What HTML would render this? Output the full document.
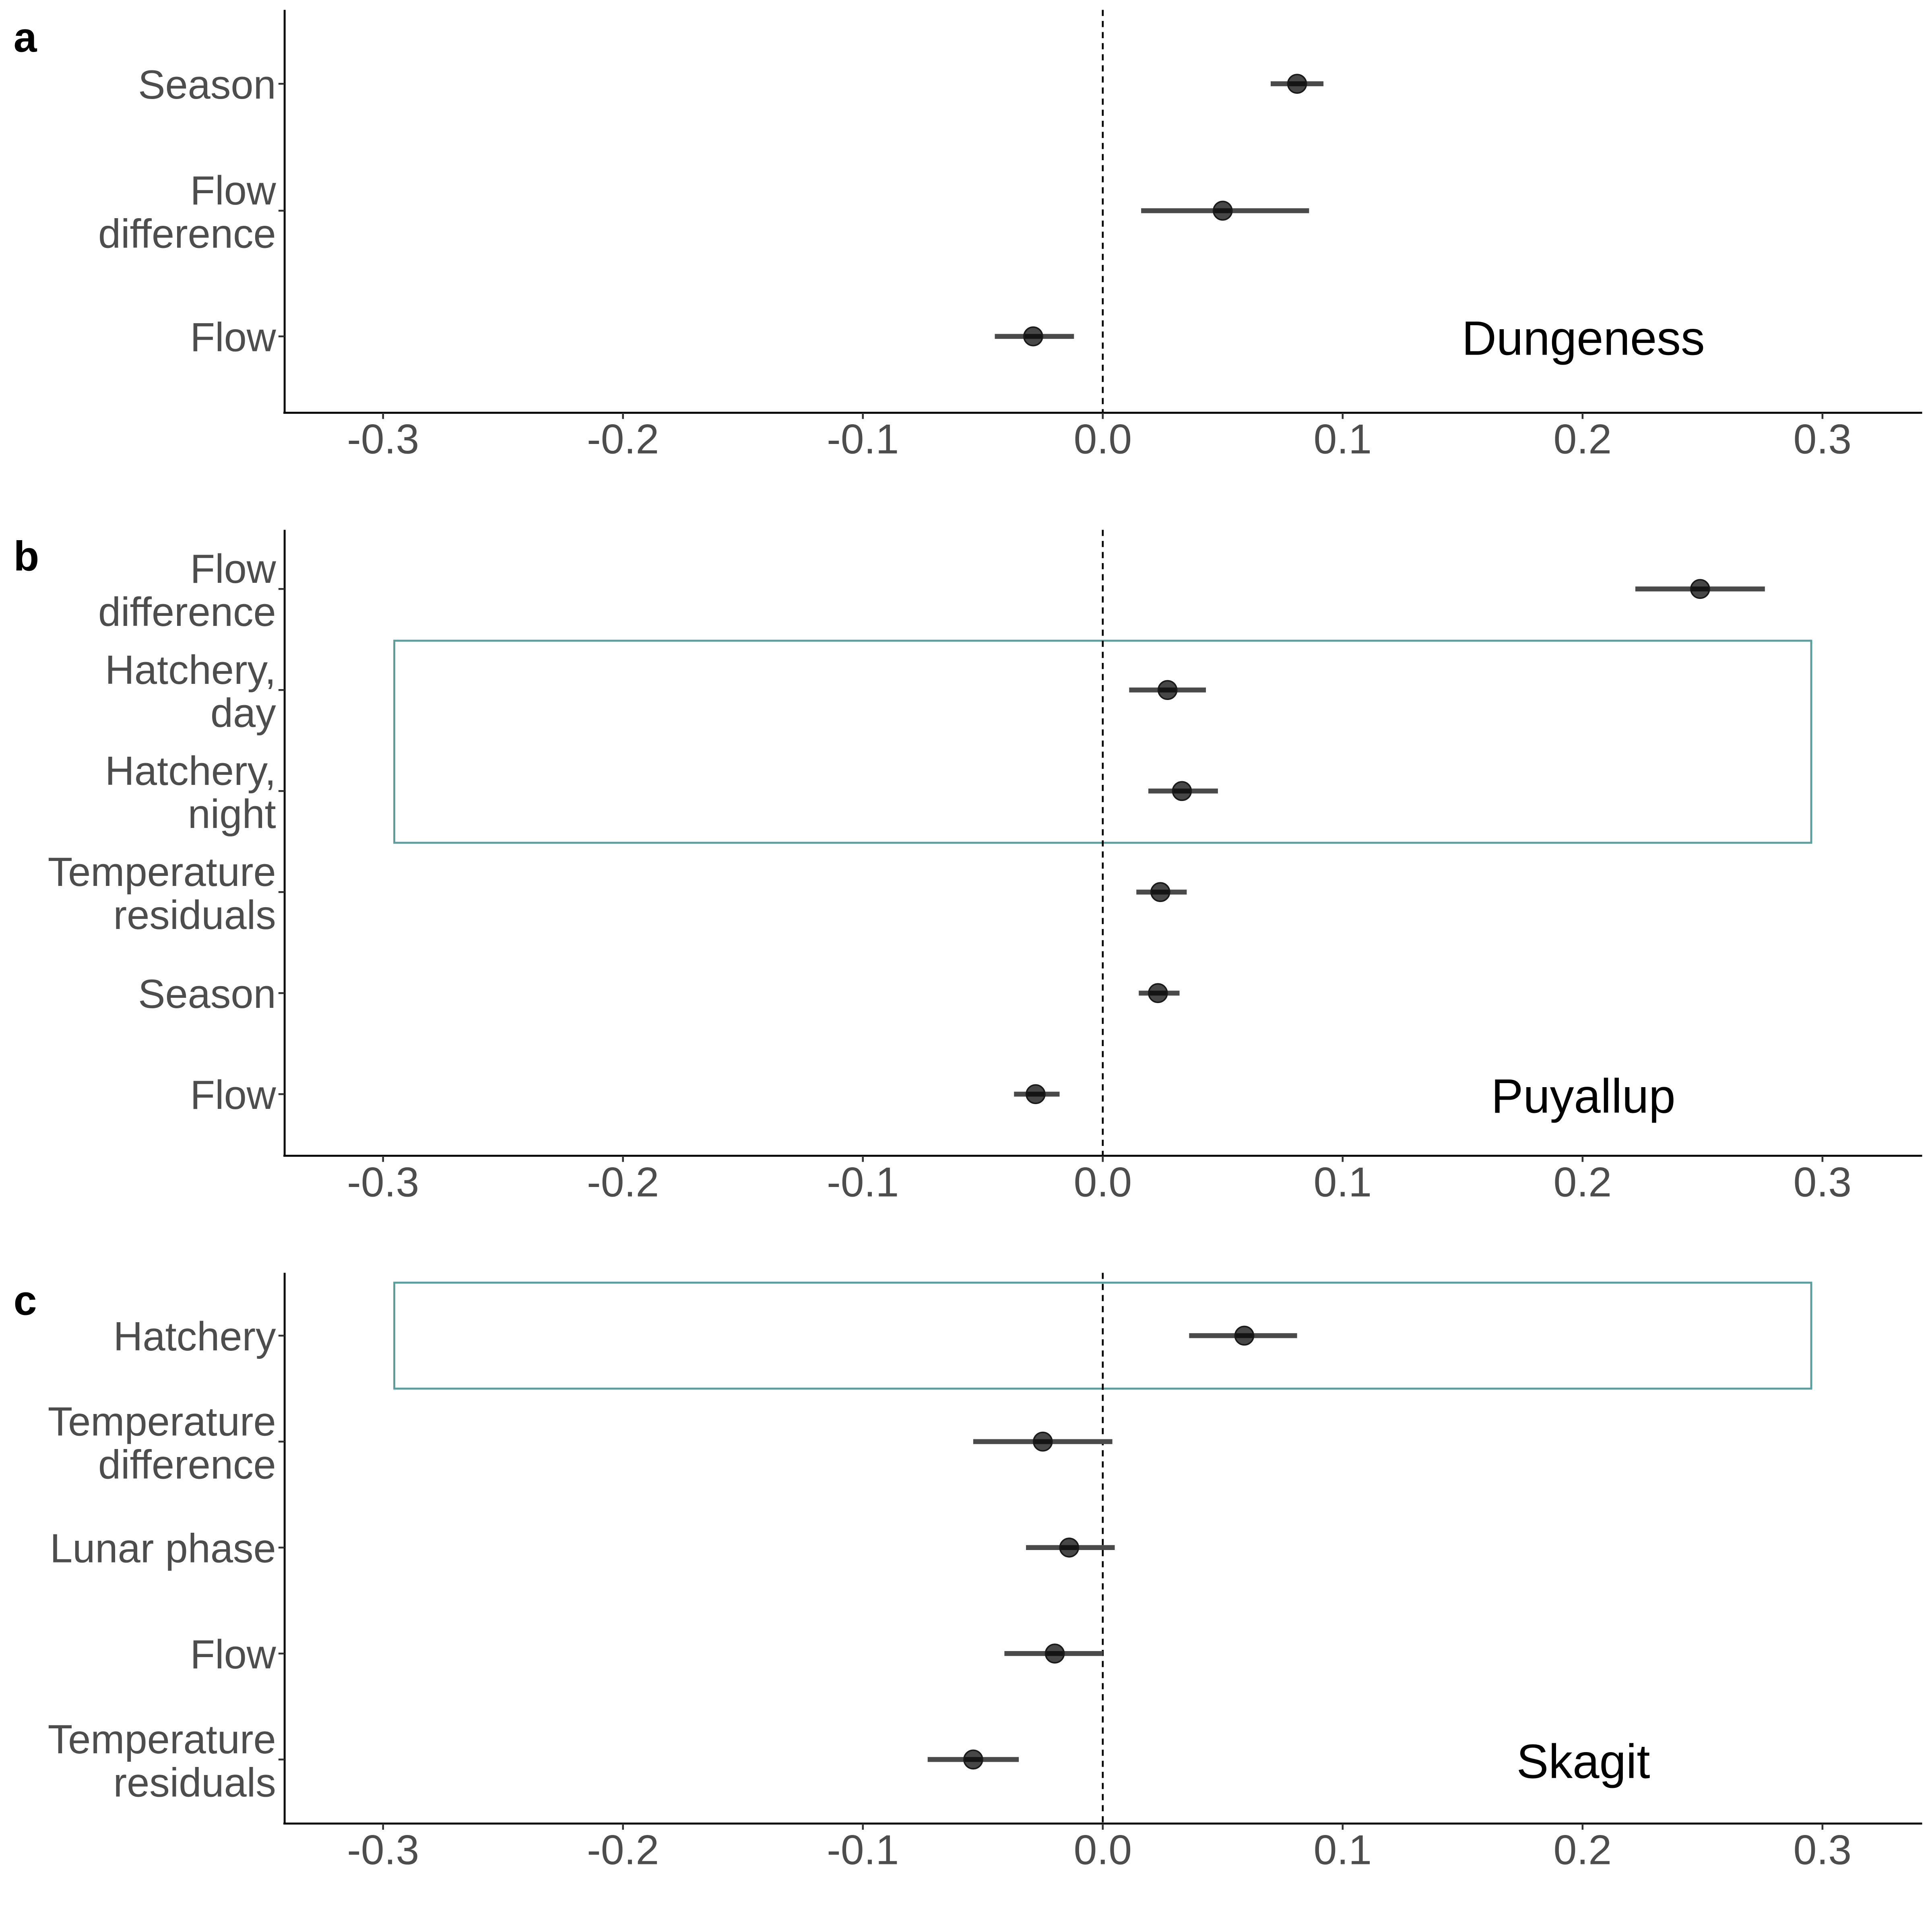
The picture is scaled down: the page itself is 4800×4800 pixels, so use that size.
<!DOCTYPE html>
<html><head><meta charset="utf-8"><style>
html,body{margin:0;padding:0;background:#fff;}
svg{display:block;font-family:"Liberation Sans",Arial,sans-serif;}
</style></head><body>
<svg id="chart" width="4800" height="4800" viewBox="0 0 1568 1568" xmlns="http://www.w3.org/2000/svg"></svg>
<script>
// Panel a - Dungeness
const aLabels = [["Season"],["Flow","difference"],["Flow"]];
const aEst = [0.081, 0.050, -0.029];
const aLo = [0.070, 0.016, -0.045];
const aHi = [0.092, 0.086, -0.012];
// Panel b - Puyallup
const bLabels = [["Flow","difference"],["Hatchery,","day"],["Hatchery,","night"],["Temperature","residuals"],["Season"],["Flow"]];
const bEst = [0.249, 0.027, 0.033, 0.024, 0.023, -0.028];
const bLo = [0.222, 0.011, 0.019, 0.014, 0.015, -0.037];
const bHi = [0.276, 0.043, 0.048, 0.035, 0.032, -0.018];
// Panel c - Skagit
const cLabels = [["Hatchery"],["Temperature","difference"],["Lunar phase"],["Flow"],["Temperature","residuals"]];
const cEst = [0.059, -0.025, -0.014, -0.020, -0.054];
const cLo = [0.036, -0.054, -0.032, -0.041, -0.073];
const cHi = [0.081, 0.004, 0.005, 0.000, -0.035];
const xTicks = [-0.3,-0.2,-0.1,0.0,0.1,0.2,0.3];
const xTickLabels = ["-0.3","-0.2","-0.1","0.0","0.1","0.2","0.3"];

const NS="http://www.w3.org/2000/svg";
const svg=document.getElementById('chart');
function el(t,a,p){const e=document.createElementNS(NS,t);for(const k in a)e.setAttribute(k,a[k]);(p||svg).appendChild(e);return e;}
const X0=895, XS=1947; // px per unit
function xs(v){return X0+v*XS;}

const panels=[
 {id:'a',letter:'a',site:'Dungeness',labels:aLabels,est:aEst,lo:aLo,hi:aHi,top:8,bot:335,rows:[68,171,273],siteY:275,box:null},
 {id:'b',letter:'b',site:'Puyallup',labels:bLabels,est:bEst,lo:bLo,hi:bHi,top:430,bot:938,rows:[478,560,642,724,806,888],siteY:890,box:[1,2]},
 {id:'c',letter:'c',site:'Skagit',labels:cLabels,est:cEst,lo:cLo,hi:cHi,top:1033,bot:1480,rows:[1084,1170,1256,1342,1428],siteY:1430,box:[0,0]}
];
const letterY={a:42,b:463,c:1067};
panels.forEach(p=>{
 const g=el('g',{});
 
 
 const L=el('text',{x:11,y:letterY[p.id],'font-size':34,'font-weight':'bold',fill:'#000'},g);
 L.textContent=p.letter;
 
 
 if(p.box){
  const y1=p.rows[p.box[0]]-(p.id==='c'?43:40), y2=p.rows[p.box[1]]+(p.id==='c'?43:42);
  const r=el('rect',{x:320,y:y1,width:1150,height:y2-y1,fill:'none',stroke:'#5a9ea0','stroke-width':1.6},g);
  
  
 }
 const z=el('line',{x1:xs(0),x2:xs(0),y1:p.top,y2:p.bot,stroke:'#000','stroke-width':1.5,'stroke-dasharray':'5,4'},g);
 
 
 const ya=el('line',{x1:231,x2:231,y1:p.top,y2:p.bot,stroke:'#000','stroke-width':1.6},g);
 
 
 const xa=el('line',{x1:230,x2:1560,y1:p.bot,y2:p.bot,stroke:'#000','stroke-width':1.6},g);
 
 
 xTicks.forEach((t,i)=>{
  el('line',{x1:xs(t),x2:xs(t),y1:p.bot,y2:p.bot+5,stroke:'#333','stroke-width':1.5},g);
  const tl=el('text',{x:xs(t),y:p.bot+33,'font-size':34,fill:'#4d4d4d','text-anchor':'middle'},g);
  tl.textContent=xTickLabels[i];
  
  
 });
 p.labels.forEach((lab,i)=>{
  const y=p.rows[i];
  el('line',{x1:226,x2:231,y1:y,y2:y,stroke:'#333','stroke-width':1.5},g);
  const startY = lab.length===1 ? y+12 : y-5;
  lab.forEach((ln,j)=>{
   const t=el('text',{x:224,y:startY+j*35,'font-size':33,fill:'#4d4d4d','text-anchor':'end'},g);
   t.textContent=ln;
   
   
  });
  const ci=el('line',{x1:xs(p.lo[i]),x2:xs(p.hi[i]),y1:y,y2:y,stroke:'#4a4a4a','stroke-width':4},g);
  
  
  const pt=el('circle',{cx:xs(p.est[i]),cy:y,r:7.5,fill:'rgba(0,0,0,0.72)',stroke:'#1a1a1a','stroke-width':1.2},g);
  
  
 });
 const s=el('text',{x:1285,y:p.siteY+13,'font-size':39,fill:'#000','text-anchor':'middle'},g);
 s.textContent=p.site;
 
 
});
</script>
</body></html>
